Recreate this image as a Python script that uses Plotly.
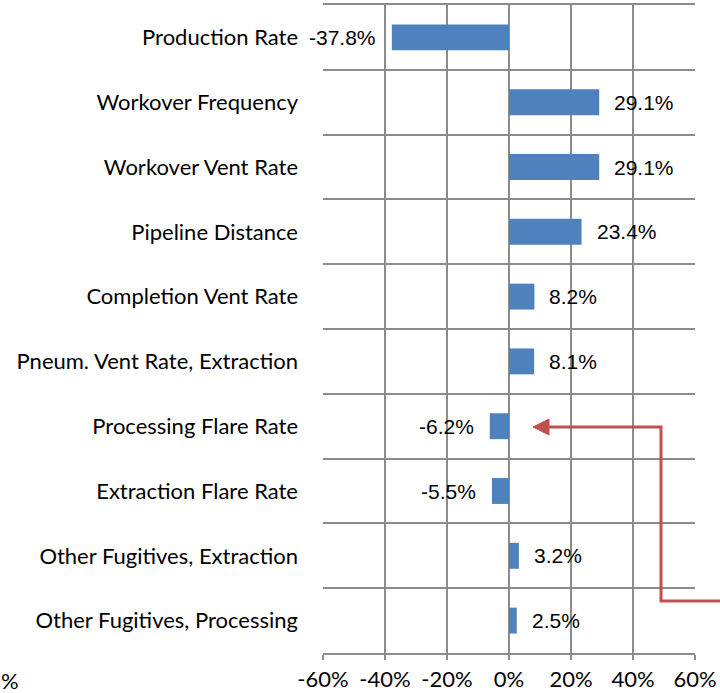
import plotly.graph_objects as go

categories = [
    "Production Rate",
    "Workover Frequency",
    "Workover Vent Rate",
    "Pipeline Distance",
    "Completion Vent Rate",
    "Pneum. Vent Rate, Extraction",
    "Processing Flare Rate",
    "Extraction Flare Rate",
    "Other Fugitives, Extraction",
    "Other Fugitives, Processing",
]
values = [-37.8, 29.1, 29.1, 23.4, 8.2, 8.1, -6.2, -5.5, 3.2, 2.5]
tick_vals = [-60, -40, -20, 0, 20, 40, 60]
tick_text = ["-60%", "-40%", "-20%", "0%", "20%", "40%", "60%"]

W, H = 720, 693
L, R, T, B = 323, 25, 5, 40
pw, ph = W - L - R, H - T - B

def px(x):
    return (x - L) / pw

def py(y):
    return (H - B - y) / ph

grid = "#8c8c8c"
label_font = "Lato, Open Sans"
fig = go.Figure()
fig.add_trace(go.Bar(
    y=categories, x=values, orientation="h",
    marker=dict(color="#4F81BD", line=dict(width=0)),
    width=0.4, showlegend=False,
))

for c, v in zip(categories, values):
    fig.add_annotation(
        x=v, y=c, xref="x", yref="y",
        text=f"{v:.1f}%", showarrow=False,
        xanchor="left" if v >= 0 else "right",
        xshift=13 if v >= 0 else -14,
        font=dict(family="Liberation Sans, Arial", size=21, color="#000000"),
    )

# red arrow (decorative annotation arrow)
red = "#C0504D"
fig.add_shape(type="path", xref="paper", yref="paper",
              path=f"M {px(722)} {py(601)} L {px(661)} {py(601)} L {px(661)} {py(427)} L {px(547)} {py(427)}",
              line=dict(color=red, width=3))
fig.add_shape(type="path", xref="paper", yref="paper",
              path=f"M {px(533)} {py(427)} L {px(549)} {py(419)} L {px(549)} {py(435)} Z",
              fillcolor=red, line=dict(color=red, width=1))

# partial label at bottom left
fig.add_annotation(x=px(-1), y=py(680), xref="paper", yref="paper",
                   text="%", showarrow=False, xanchor="left", yanchor="middle",
                   font=dict(family=label_font, size=22, color="#000000"))

fig.update_layout(
    width=W, height=H,
    margin=dict(l=L, r=R, t=T, b=B, autoexpand=False),
    paper_bgcolor="white", plot_bgcolor="white",
    bargap=0.6,
    font=dict(family=label_font, size=22, color="#000000"),
)
fig.update_xaxes(
    range=[-60, 60], tickvals=tick_vals, ticktext=tick_text,
    showgrid=True, gridcolor=grid, gridwidth=2,
    showline=True, linecolor=grid, linewidth=2, mirror=True,
    ticks="outside", ticklen=5, tickcolor=grid, tickwidth=2,
    zeroline=False, ticklabelstandoff=1, automargin=False,
    tickfont=dict(family=label_font, size=22),
)
fig.update_yaxes(
    type="category", autorange="reversed",
    tickson="boundaries", showgrid=True, gridcolor=grid, gridwidth=2,
    showline=False, ticks="", ticklabelstandoff=24, automargin=False,
    tickfont=dict(family=label_font, size=22),
)

fig.write_html("out.html", config={"displayModeBar": False},
               post_script="document.body.style.margin='0';")
